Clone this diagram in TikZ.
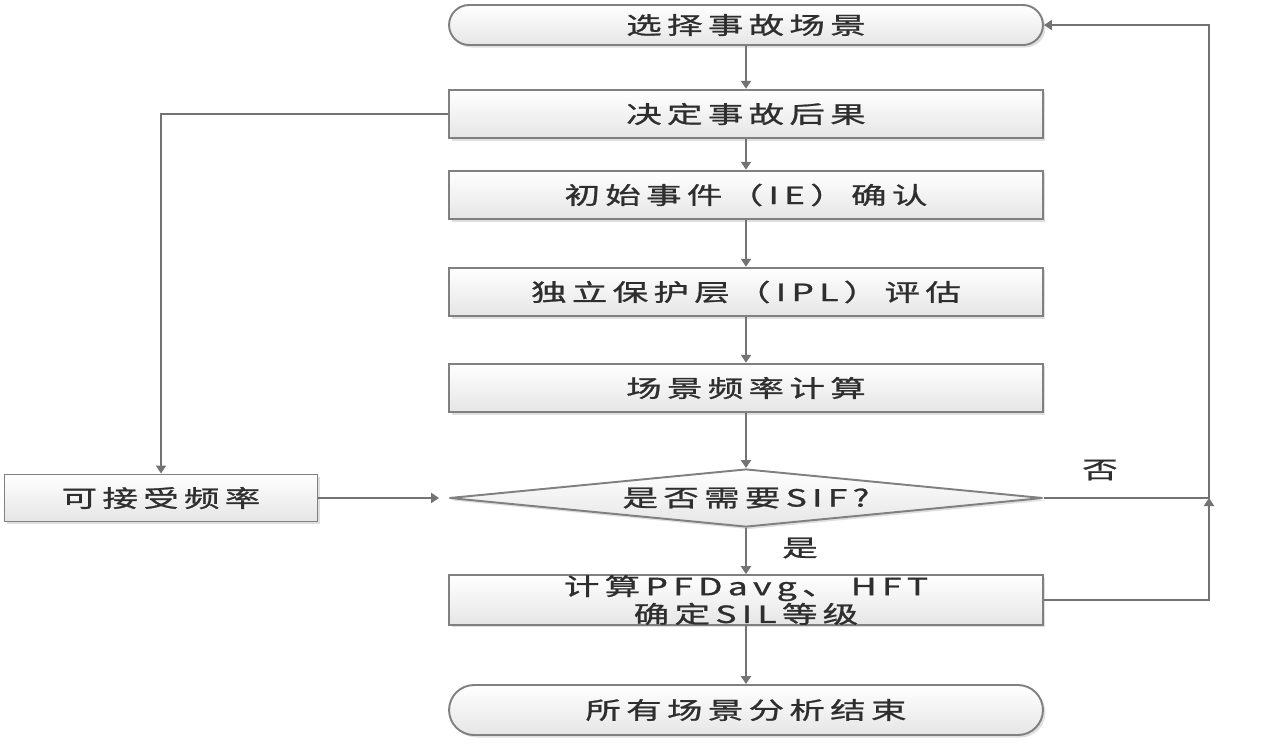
\documentclass[tikz,border=0pt]{standalone}
\usepackage{fontspec}
\setmainfont{Noto Sans CJK SC}[FakeStretch=1.5,LetterSpace=22,FakeBold=1]
\usetikzlibrary{shapes.geometric,arrows.meta,shadows}

\begin{document}
\begin{tikzpicture}
      [x=0.02cm,y=-0.02cm
      ,every node/.style={font=\fontsize{13.5}{14.2}\selectfont,text=black!82}
      ,shd/.style={drop shadow={shadow xshift=0.05cm,shadow yshift=-0.05cm,opacity=.25}}
      ,blk/.style={draw=black!50,line width=1.1pt,top color=white,bottom color=black!10,shd,minimum width=11.88cm,minimum height=0.97cm,inner sep=0pt}
      ,term/.style={blk,rounded corners=0.4cm,minimum height=0.8cm}
      ,dia/.style={blk,diamond,aspect=10,minimum width=11.88cm,minimum height=1.16cm}
      ,lin/.style={draw=black!55,line width=1.2pt}
      ,arr/.style={lin,-{Triangle[width=0.2cm,length=0.16cm]}}
      ,lbl/.style={inner sep=0pt}
      ]
        \useasboundingbox (0,0) rectangle (1277,745);
        \node[term] (sel) at (746,25) {选择事故场景};
        \node[blk] (cons) at (746,114) {决定事故后果};
        \node[blk] (ie) at (746,195) {初始事件（IE）确认};
        \node[blk] (ipl) at (746,292) {独立保护层（IPL）评估};
        \node[blk] (freq) at (746,388) {场景频率计算};
        \node[dia] (sif) at (746,498) {是否需要SIF?};
        \node[blk,align=center] (sil) at (746,600) {计算PFDavg、 HFT\\确定SIL等级};
        \node[term,rounded corners=0.5cm,minimum height=1cm] (done) at (746,710) {所有场景分析结束};
        \node[blk,minimum width=6.26cm,minimum height=0.94cm] (acc) at (161,498) {可接受频率};
        \node[lbl] (no) at (1100,470) {否};
        \node[lbl] (yes) at (800,548) {是};
        \coordinate (j) at (1209,498);

        \draw[arr] (sel) -- (cons);
        \draw[arr] (cons) -- (ie);
        \draw[arr] (ie) -- (ipl);
        \draw[arr] (ipl) -- (freq);
        \draw[arr] (freq) -- (sif);
        \draw[arr] (sif) -- (sil);
        \draw[arr] (sil) -- (done);
        \draw[arr] (cons.west) -| (acc.north);
        \draw[arr] (acc.east) -- ([xshift=-0.18cm]sif.west);
        \draw[arr] (sif.east) -- (j) |- (sel.east);
        \draw[arr] (sil.east) -| (j);
\end{tikzpicture}
\end{document}
